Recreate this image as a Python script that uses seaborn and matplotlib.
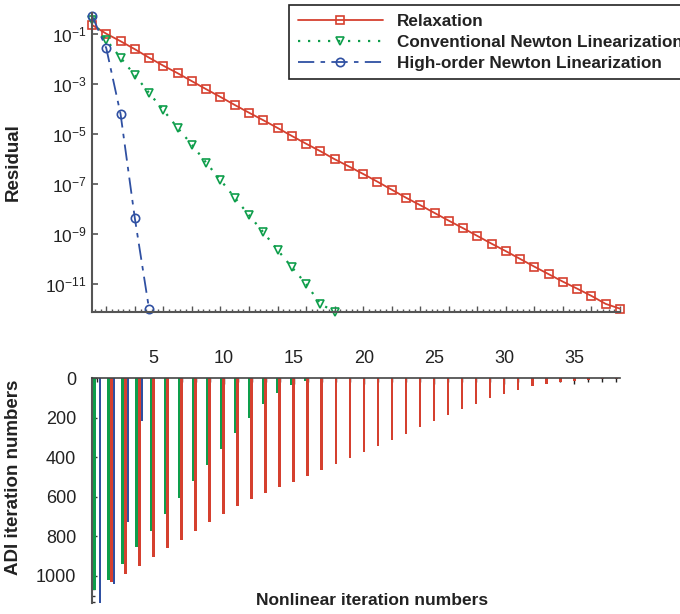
import numpy as np
import pandas as pd
import seaborn as sns
import matplotlib.pyplot as plt
from matplotlib.ticker import MultipleLocator, FixedLocator, NullLocator, LogFormatterMathtext

plt.switch_backend('Agg')

# Residual history (log10 of residual), one value per nonlinear iteration
relax_log = [-0.63, -0.98, -1.28, -1.60, -1.94, -2.26, -2.56, -2.88, -3.20, -3.51,
             -3.83, -4.14, -4.44, -4.75, -5.07, -5.38, -5.68, -6.00, -6.29, -6.59,
             -6.90, -7.22, -7.54, -7.84, -8.15, -8.46, -8.76, -9.07, -9.38, -9.68,
             -9.99, -10.30, -10.60, -10.90, -11.18, -11.47, -11.79, -11.98]
conv_log = [-0.43, -1.23, -1.94, -2.64, -3.35, -4.04, -4.75, -5.42, -6.14, -6.83,
            -7.54, -8.24, -8.92, -9.63, -10.32, -10.99, -11.79, -12.10]
hon_log = [-0.26, -1.56, -4.19, -8.36, -12.00]

# ADI iterations per nonlinear iteration
adi_iter = list(range(1, 39))
adi_relax = [np.nan, 1030, 991, 950, 905, 859, 818, 773, 728, 687, 647, 611, 580, 550,
             523, 493, 463, 432, 402, 372, 341, 311, 280, 245, 215, 184, 154, 129, 98,
             78, 58, 37, 27, 17, 12, 8, 5, 3]
adi_conv = [1072, 1021, 940, 854, 773, 687, 606, 520, 439, 358, 277, 201, 129, 73, 32, 12]
adi_hon = [1140, 1042, 728, 216]

labels = ['Relaxation', 'Conventional Newton Linearization', 'High-order Newton Linearization']
red, green, blue = '#d5402f', '#0e9e4b', '#2f50a2'

sns.set_style('ticks')
plt.rcParams['font.family'] = ['Liberation Sans', 'DejaVu Sans']
plt.rcParams['mathtext.fontset'] = 'custom'
plt.rcParams['mathtext.rm'] = 'Liberation Sans'
plt.rcParams['mathtext.it'] = 'Liberation Sans'
plt.rcParams['xtick.direction'] = 'in'
plt.rcParams['ytick.direction'] = 'in'
spine_c = '#555555'

fig = plt.figure(figsize=(6.8, 6.14), dpi=100)
ax1 = fig.add_axes([0.1353, 0.4924, 0.7765, 0.4865])
ax2 = fig.add_axes([0.1353, 0.0184, 0.7765, 0.3655])

# ---- top: residual vs iteration
ax1.set_yscale('log')
sns.lineplot(x=np.arange(1, len(relax_log) + 1), y=10.0 ** np.array(relax_log), ax=ax1,
             color=red, lw=1.3, marker='s', ms=5.5, mfc='none', mec=red, mew=1.2,
             label=labels[0], clip_on=False)
sns.lineplot(x=np.arange(1, len(conv_log) + 1), y=10.0 ** np.array(conv_log), ax=ax1,
             color=green, lw=1.6, linestyle=(0, (1, 3.5)), marker='v', ms=6, mfc='none',
             mec=green, mew=1.2, label=labels[1], clip_on=False)
sns.lineplot(x=np.arange(1, len(hon_log) + 1), y=10.0 ** np.array(hon_log), ax=ax1,
             color=blue, lw=1.3, linestyle=(0, (9, 3.5, 2.5, 3.5)), marker='o', ms=6,
             mfc='none', mec=blue, mew=1.2, label=labels[2], clip_on=False)

ax1.set_xlim(1, 38)
ax1.set_ylim(10 ** -12.1, 10 ** -0.15)
ax1.xaxis.set_major_locator(MultipleLocator(2))
ax1.xaxis.set_minor_locator(MultipleLocator(0.4))
ax1.yaxis.set_major_locator(FixedLocator([10.0 ** e for e in range(-11, 0, 2)]))
ax1.yaxis.set_major_formatter(LogFormatterMathtext())
ax1.yaxis.set_minor_locator(NullLocator())
ax1.tick_params(axis='x', which='major', length=4, width=1, color=spine_c, labelbottom=False)
ax1.tick_params(axis='x', which='minor', length=2.3, width=1, color=spine_c)
ax1.tick_params(axis='y', which='major', length=4.5, width=1.2, color=spine_c,
                labelsize=12.5, labelcolor='#222222', pad=4)
for s in ['top', 'right']:
    ax1.spines[s].set_visible(False)
for s in ['left', 'bottom']:
    ax1.spines[s].set_color(spine_c)
    ax1.spines[s].set_linewidth(1.5)
ax1.set_xlabel('')
ax1.set_ylabel('Residual', fontsize=13.5, fontweight='bold', color='#222222')
ax1.yaxis.set_label_coords(-0.1326, 0.5)

leg = ax1.legend(loc='upper left', bbox_to_anchor=(289 / 680, 1 - 5 / 614),
                 bbox_transform=fig.transFigure, borderaxespad=0, frameon=True,
                 fancybox=False, framealpha=1, edgecolor='#222222', handlelength=5.0,
                 handletextpad=0.8, labelspacing=0.36, borderpad=0.5, numpoints=1,
                 prop={'weight': 'bold', 'size': 12.3})
leg.get_frame().set_linewidth(1.2)
for t in leg.get_texts():
    t.set_color('#222222')

# ---- bottom: ADI iterations as hanging bars
rows = []
for name, vals in zip(labels, [adi_relax, adi_conv, adi_hon]):
    for it, v in zip(adi_iter, vals):
        rows.append({'iteration': it, 'method': name, 'adi': v})
df = pd.DataFrame(rows)

sns.barplot(data=df, x='iteration', y='adi', hue='method',
            hue_order=[labels[1], labels[0], labels[2]],
            palette=[green, red, blue], native_scale=True, width=0.56, dodge=True,
            saturation=1, errorbar=None, legend=False, orient='x', ax=ax2, linewidth=0)

ax2.set_xlim(0.62, 38.26)
ax2.set_ylim(1136, 0)
ax2.xaxis.tick_top()
ax2.xaxis.set_major_locator(MultipleLocator(5))
ax2.xaxis.set_minor_locator(MultipleLocator(1))
ax2.yaxis.set_major_locator(MultipleLocator(200))
ax2.yaxis.set_minor_locator(MultipleLocator(200 / 6))
ax2.tick_params(axis='x', which='major', length=4.3, width=1, color='#222222',
                labelsize=13, labelcolor='#222222', pad=8)
ax2.tick_params(axis='x', which='minor', length=3, width=1, color='#222222')
ax2.tick_params(axis='y', which='major', length=3.5, width=1, color='#333333',
                labelsize=13, labelcolor='#222222', pad=11.5)
ax2.tick_params(axis='y', which='minor', length=2.5, width=1, color='#333333')
for s in ['bottom', 'right']:
    ax2.spines[s].set_visible(False)
ax2.spines['top'].set_color('#444444')
ax2.spines['top'].set_linewidth(1.2)
ax2.spines['left'].set_color(spine_c)
ax2.spines['left'].set_linewidth(1.5)

ax2.set_xlabel('Nonlinear iteration numbers', fontsize=12.5, fontweight='bold', color='#222222')
ax2.xaxis.set_label_position('bottom')
ax2.xaxis.label.set_verticalalignment('center')
ax2.xaxis.set_label_coords((372 - 92) / 528, 0.0076)
ax2.set_ylabel('ADI iteration numbers', fontsize=13.5, fontweight='bold', color='#222222')
ax2.yaxis.set_label_coords(-0.1326, 0.558)

fig.savefig('out.png', dpi=100)
